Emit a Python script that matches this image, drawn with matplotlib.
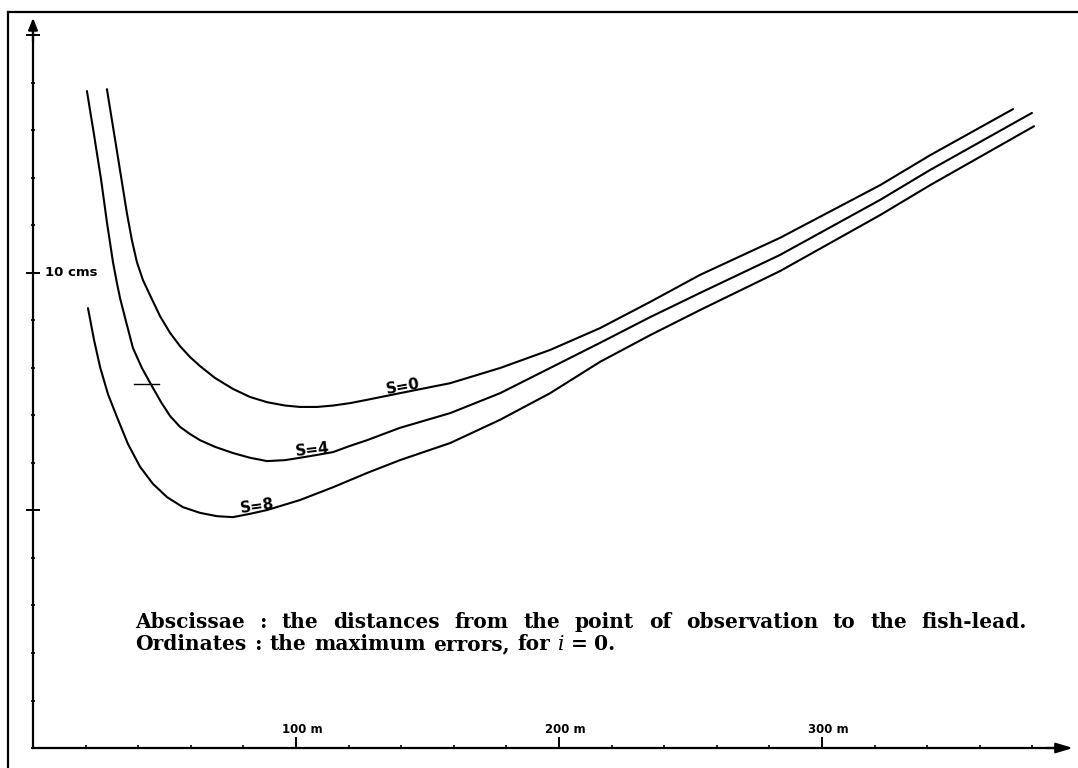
import matplotlib
matplotlib.use("Agg")
import matplotlib.pyplot as plt
import numpy as np
from matplotlib import font_manager
from matplotlib.ft2font import FT2Font
from matplotlib.lines import Line2D

# ---------------- data (distance in m, maximum error in cm) ----------------
dist_s0 = [28.1, 31.9, 35.7, 37.6, 39.5, 41.8, 45.2, 48.3, 52.1, 55.9, 59.7, 63.5, 69.2,
           76.0, 82.5, 89.0, 95.8, 101.5, 108.0, 114.1, 120.5, 127.0, 139.5, 158.6,
           177.6, 196.6, 215.6, 234.6, 253.6, 284.0, 322.1, 341.1, 372.6]
err_s0 = [13.87, 12.57, 11.26, 10.69, 10.23, 9.85, 9.45, 9.09, 8.74, 8.46, 8.23, 8.04, 7.79,
          7.56, 7.39, 7.28, 7.21, 7.18, 7.18, 7.21, 7.26, 7.33, 7.47, 7.68,
          8.0, 8.38, 8.84, 9.39, 9.96, 10.74, 11.85, 12.48, 13.45]

dist_s4 = [20.5, 23.2, 25.9, 28.1, 30.4, 31.9, 33.1, 35.4, 38.0, 41.4, 45.2, 48.7, 52.1,
           55.9, 59.7, 63.5, 69.2, 76.0, 82.5, 89.0, 95.8, 101.5, 108.0, 114.1, 120.5,
           127.0, 139.5, 158.6, 177.6, 196.6, 215.6, 234.6, 253.6, 284.0, 322.1, 341.1, 379.8]
err_s4 = [13.83, 12.91, 11.96, 11.07, 10.23, 9.79, 9.47, 8.97, 8.42, 8.0, 7.62, 7.28, 6.99,
          6.76, 6.61, 6.48, 6.34, 6.21, 6.11, 6.04, 6.06, 6.11, 6.17, 6.23, 6.36,
          6.48, 6.74, 7.05, 7.47, 8.0, 8.53, 9.07, 9.58, 10.38, 11.54, 12.17, 13.37]

dist_s8 = [20.9, 23.2, 25.5, 28.5, 31.9, 36.1, 40.7, 45.6, 51.0, 57.0, 63.5, 70.0, 76.0,
           82.5, 89.0, 101.5, 114.1, 127.0, 139.5, 158.6, 177.6, 196.6, 215.6, 234.6,
           253.6, 284.0, 322.1, 341.1, 380.6]
err_s8 = [9.26, 8.59, 8.02, 7.45, 6.97, 6.40, 5.92, 5.56, 5.28, 5.07, 4.95, 4.88, 4.86,
          4.93, 5.01, 5.22, 5.49, 5.79, 6.06, 6.42, 6.91, 7.47, 8.13, 8.69,
          9.22, 10.04, 11.22, 11.85, 13.09]

series_labels = ["S=0", "S=4", "S=8"]
label_dist = [140.7, 106.1, 85.2]
label_rot = [10, 6, 8]

mark_dist = [38.4, 47.9]
mark_err = 7.66

x_major = [100, 200, 300]
x_major_labels = ["100 m", "200 m", "300 m"]
x_minor = list(range(20, 400, 20))
y_major = [5, 10, 15]
y_minor = list(range(0, 16))
y_label_value = 10
y_label_text = "10 cms"

caption_line1 = ["Abscissae", ":", "the", "distances", "from", "the", "point", "of",
                 "observation", "to", "the", "fish-lead."]
caption_line2 = ["Ordinates", ":", "the", "maximum", "errors,", "for", "i", "=", "0."]

# ---------------- figure ----------------
W, H, DPI = 1078, 768, 100
fig = plt.figure(figsize=(W / DPI, H / DPI), dpi=DPI)
ax = fig.add_axes([0, 0, 1, 1])
ax.set_xlim(-12.55, 397.3)
ax.set_ylim(-0.421, 15.747)
ax.patch.set_alpha(0)

lw_curve = 1.5
curves = [(dist_s0, err_s0), (dist_s4, err_s4), (dist_s8, err_s8)]
for d, e in curves:
    ax.plot(d, e, color="black", lw=lw_curve, solid_joinstyle="round",
            solid_capstyle="round")

ax.plot(mark_dist, [mark_err, mark_err], color="black", lw=1.0)

# curve labels
for lab, xd, rot, (d, e) in zip(series_labels, label_dist, label_rot, curves):
    yv = np.interp(xd, d, e)
    ax.annotate(lab, xy=(xd, yv), xytext=(0, 6), textcoords="offset pixels",
                ha="center", va="center", rotation=rot, fontsize=11,
                fontweight="bold", family="DejaVu Sans")

# axes / spines
x_tip, y_tip = 395.4, 15.37
for s in ["top", "right"]:
    ax.spines[s].set_visible(False)
ax.spines["left"].set_position(("data", 0))
ax.spines["bottom"].set_position(("data", 0))
ax.spines["left"].set_bounds(0, y_tip - 0.15)
ax.spines["bottom"].set_bounds(0, x_tip - 5)
for s in ["left", "bottom"]:
    ax.spines[s].set_linewidth(1.6)

ax.annotate("", xy=(0, y_tip), xytext=(0, y_tip - 0.5),
            arrowprops=dict(arrowstyle="-|>,head_length=0.7,head_width=0.28",
                            color="black", lw=1.6, shrinkA=0, shrinkB=0),
            annotation_clip=False)
ax.annotate("", xy=(x_tip, 0), xytext=(x_tip - 10, 0),
            arrowprops=dict(arrowstyle="-|>,head_length=1.0,head_width=0.3",
                            color="black", lw=1.6, shrinkA=0, shrinkB=0),
            annotation_clip=False)

ax.set_xticks(x_major)
ax.set_xticks(x_minor, minor=True)
ax.set_yticks(y_major)
ax.set_yticks(y_minor, minor=True)
ax.tick_params(axis="x", which="major", direction="in", length=8, width=1.4,
               labelbottom=False)
ax.tick_params(axis="x", which="minor", direction="in", length=2.5, width=1.2)
ax.tick_params(axis="y", which="major", direction="inout", length=10, width=1.4,
               labelleft=False)
ax.tick_params(axis="y", which="minor", direction="inout", length=3.5, width=1.2)

for xv, lab in zip(x_major, x_major_labels):
    ax.annotate(lab, xy=(xv, 0), xytext=(6, 12), textcoords="offset pixels",
                ha="center", va="bottom", fontsize=8.5, fontweight="bold",
                family="DejaVu Sans")

ax.annotate(y_label_text, xy=(0, y_label_value), xytext=(12, 0),
            textcoords="offset pixels", ha="left", va="center",
            fontsize=9.5, fontweight="bold", family="DejaVu Sans")

# frame lines (top and left border of the plate)
fig.add_artist(Line2D([8 / W, 1.0], [756 / H, 756 / H], transform=fig.transFigure,
                      color="black", lw=1.6))
fig.add_artist(Line2D([8 / W, 8 / W], [0, 756 / H], transform=fig.transFigure,
                      color="black", lw=1.6))

# ---------------- caption ----------------
cap_size = 14.5
prop_b = font_manager.FontProperties(family="DejaVu Serif", weight="bold", size=cap_size)
prop_i = font_manager.FontProperties(family="DejaVu Serif", style="italic", size=cap_size)


def word_width(word, prop):
    f = FT2Font(font_manager.findfont(prop))
    f.set_size(prop.get_size_in_points(), DPI)
    return sum(f.load_char(ord(c)).linearHoriAdvance / 65536 for c in word)


x0 = 135
line1_end = 1027
base1 = H - 628
base2 = H - 650

w1 = [word_width(w, prop_b) for w in caption_line1]
gap1 = (line1_end - x0 - sum(w1)) / (len(caption_line1) - 1)

x = x0
for w, ww in zip(caption_line1, w1):
    fig.text(x / W, base1 / H, w, fontproperties=prop_b, ha="left", va="baseline")
    x += ww + gap1

gap2 = 8
x = x0
for w in caption_line2:
    p = prop_i if w == "i" else prop_b
    ww = word_width(w, p)
    fig.text(x / W, base2 / H, w, fontproperties=p, ha="left", va="baseline")
    x += ww + (gap2 * 0.8 if w in ("i", "=") else gap2)

fig.savefig("out.png", dpi=DPI)
